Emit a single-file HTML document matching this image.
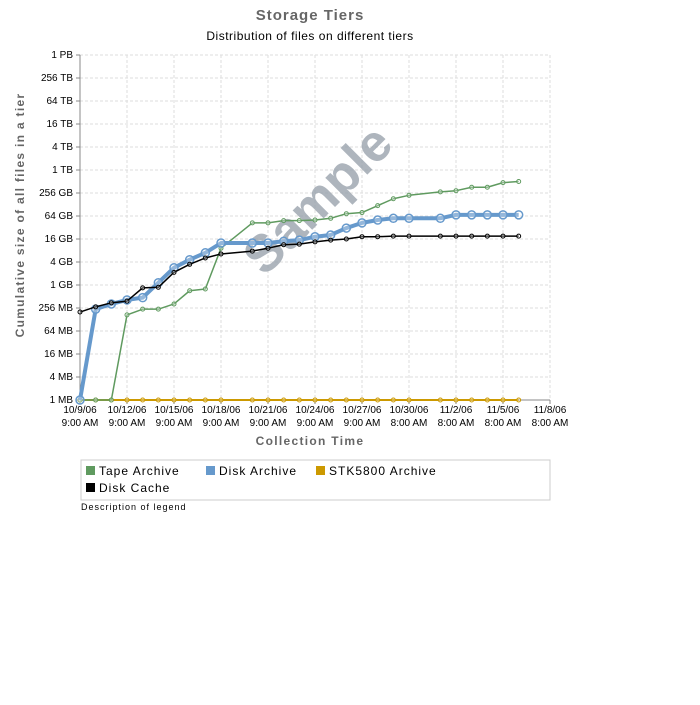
<!DOCTYPE html>
<html><head><meta charset="utf-8"><style>
body{margin:0;background:#fff;width:700px;height:700px;overflow:hidden;font-family:"Liberation Sans",sans-serif}
</style></head><body>
<svg id="chart" width="700" height="700" xmlns="http://www.w3.org/2000/svg" font-family="Liberation Sans, sans-serif">
<text x="310" y="20" text-anchor="middle" font-size="15" font-weight="bold" fill="#666" letter-spacing="1">Storage Tiers</text>
<text x="310" y="40" text-anchor="middle" font-size="12" fill="#000" letter-spacing="0.5">Distribution of files on different tiers</text>
<g id="grid"></g>
<g id="axes"></g>
<text transform="translate(330,212) rotate(-45)" x="0" y="0" font-size="52" font-weight="bold" fill="#9aa3ad" opacity="0.8" text-anchor="middle">Sample</text>
<g id="series"></g>
<text transform="translate(24,215) rotate(-90)" text-anchor="middle" font-size="12" font-weight="bold" fill="#666" letter-spacing="1.3">Cumulative size of all files in a tier</text>
<text x="310" y="445" text-anchor="middle" font-size="12" font-weight="bold" fill="#666" letter-spacing="1.3">Collection Time</text>
<g>
<rect x="81" y="460" width="469" height="40" fill="#fff" stroke="#ccc"/>
<g><rect x="86" y="466" width="9" height="9" fill="#5f9a5f"/><text x="99" y="475" font-size="12" letter-spacing="1">Tape Archive</text></g>
<g><rect x="206" y="466" width="9" height="9" fill="#6699cc"/><text x="219" y="475" font-size="12" letter-spacing="1">Disk Archive</text></g>
<g><rect x="316" y="466" width="9" height="9" fill="#cc9900"/><text x="329" y="475" font-size="12" letter-spacing="1">STK5800 Archive</text></g>
<g><rect x="86" y="483" width="9" height="9" fill="#000"/><text x="99" y="492" font-size="12" letter-spacing="1">Disk Cache</text></g>
</g>
<text x="81" y="510" font-size="9" letter-spacing="1">Description of legend</text>
</svg>
<script>
const days=[0,1,2,3,4,5,6,7,8,9,11,12,13,14,15,16,17,18,19,20,21,23,24,25,26,27,28];
const tapeArchive=[0,0,0,7.4,7.9,7.9,8.35,9.5,9.65,13.2,15.4,15.4,15.6,15.6,15.65,15.8,16.2,16.3,16.9,17.5,17.8,18.1,18.2,18.5,18.5,18.9,19.0];
const diskArchive=[0,7.9,8.35,8.7,8.9,10.2,11.5,12.2,12.8,13.65,13.65,13.65,13.8,13.9,14.2,14.35,14.95,15.4,15.65,15.8,15.8,15.8,16.1,16.1,16.1,16.1,16.1];
const stkArchive=[0,0,0,0,0,0,0,0,0,0,0,0,0,0,0,0,0,0,0,0,0,0,0,0,0,0,0];
const diskCache=[7.65,8.1,8.45,8.6,9.75,9.8,11.1,11.8,12.35,12.7,12.95,13.2,13.5,13.55,13.75,13.9,14.0,14.2,14.2,14.25,14.25,14.25,14.25,14.25,14.25,14.25,14.25];
const yTickLabels=["1 MB","4 MB","16 MB","64 MB","256 MB","1 GB","4 GB","16 GB","64 GB","256 GB","1 TB","4 TB","16 TB","64 TB","256 TB","1 PB"];
const xTickDays=[0,3,6,9,12,15,18,21,24,27,30];
const xTickLine1=["10/9/06","10/12/06","10/15/06","10/18/06","10/21/06","10/24/06","10/27/06","10/30/06","11/2/06","11/5/06","11/8/06"];
const xTickLine2=["9:00 AM","9:00 AM","9:00 AM","9:00 AM","9:00 AM","9:00 AM","9:00 AM","8:00 AM","8:00 AM","8:00 AM","8:00 AM"];

const NS="http://www.w3.org/2000/svg";
const x0=80,y0=400,pxDay=15.667,pxUnit=11.5;
const xs=d=>x0+d*pxDay, ys=v=>y0-v*pxUnit;
function mk(tag,attrs,parent){const e=document.createElementNS(NS,tag);for(const k in attrs)e.setAttribute(k,attrs[k]);parent.appendChild(e);return e;}
const grid=document.getElementById('grid'),axes=document.getElementById('axes'),ser=document.getElementById('series');
const xEnd=xs(30);
yTickLabels.forEach((lab,i)=>{
  const y=ys(i*2);
  if(i>0){const g=mk('line',{x1:x0,x2:xEnd,y1:y,y2:y,stroke:'#ddd','stroke-dasharray':'3,2'},grid);
  
  }
  mk('line',{x1:x0-4,x2:x0,y1:y,y2:y,stroke:'#888'},axes);
  const t=mk('text',{x:x0-7,y:y+3,'text-anchor':'end','font-size':'10'},axes);t.textContent=lab;
  
  
});
xTickDays.forEach((d,i)=>{
  const x=xs(d);
  if(i>0){const g=mk('line',{x1:x,x2:x,y1:ys(30),y2:y0,stroke:'#ddd','stroke-dasharray':'3,2'},grid);
  
  }
  mk('line',{x1:x,x2:x,y1:y0,y2:y0+4,stroke:'#888'},axes);
  const t=mk('text',{x:x,y:413,'text-anchor':'middle','font-size':'10'},axes);t.textContent=xTickLine1[i];
  
  
  const t2=mk('text',{x:x,y:426,'text-anchor':'middle','font-size':'10'},axes);t2.textContent=xTickLine2[i];
  
  
});
mk('line',{x1:x0,x2:x0,y1:ys(30),y2:y0,stroke:'#888'},axes);
mk('line',{x1:x0,x2:xEnd,y1:y0,y2:y0,stroke:'#888'},axes);
function series(vals,color,w,r,sw,name){
  const pts=vals.map((v,i)=>xs(days[i])+','+ys(v)).join(' ');
  const pl=mk('polyline',{points:pts,fill:'none',stroke:color,'stroke-width':w,'stroke-linejoin':'round'},ser);
  
  
  vals.forEach((v,i)=>{const c=mk('circle',{cx:xs(days[i]),cy:ys(v),r:r,fill:'#fff','fill-opacity':0.3,stroke:color,'stroke-width':sw},ser);
  
  });
}
series(stkArchive,'#cc9900',2,2,1,'stk5800-archive');
series(tapeArchive,'#5f9a5f',1.5,2,1,'tape-archive');
series(diskArchive,'#6699cc',4,4,1.5,'disk-archive');
series(diskCache,'#000',1.5,2,1,'disk-cache');
</script>
</body></html>
